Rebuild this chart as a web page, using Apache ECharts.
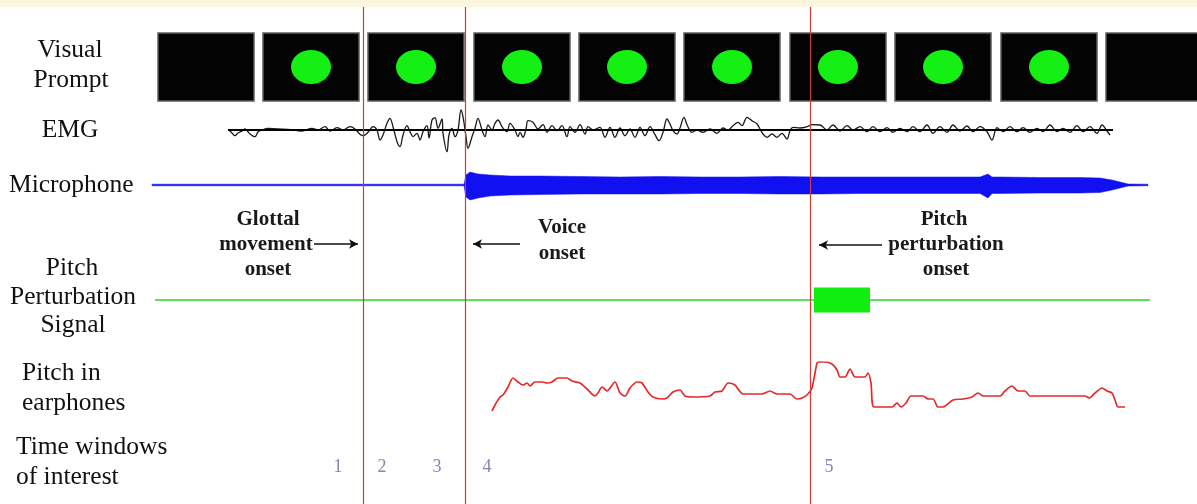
<!DOCTYPE html>
<html>
<head>
<meta charset="utf-8">
<script src="https://cdn.jsdelivr.net/npm/echarts@6/dist/echarts.min.js"></script>
<style>
html,body{margin:0;padding:0;background:#fff;}
#chart{width:1197px;height:504px;}
</style>
</head>
<body>
<div id="chart"></div>
<script>
// ---- data (time axis in ms-like units across the trial) ----
const onsetTimes = [363, 465, 810];
const windowTimes = [338, 382, 437, 487, 829];
const windowLabels = ['1', '2', '3', '4', '5'];

const promptStart = [158, 263, 368, 474, 579, 684, 790, 895, 1001, 1106];
const promptEnd   = [254, 359, 464, 570, 675, 780, 886, 991, 1097, 1202];
const promptLit   = [0, 1, 1, 1, 1, 1, 1, 1, 1, 0];

const emgTime = [229,232,235,238,242,245,250,255,258,262,268,278,288,302,312,318,325,330,337,343,350,355,360,363,368,373,377,380,383,387,390,393,397,400,403,407,410,413,417,420,423,427,429,432,435,438,442,443,447,449,452,455,458,461,463,466,468,472,475,478,482,485,488,492,495,498,502,507,510,515,518,520,523,526,528,533,538,543,547,552,557,562,567,570,575,580,585,588,593,600,605,610,615,620,625,630,635,640,645,650,655,659,663,667,670,673,677,680,684,687,692,697,703,710,717,723,728,733,738,742,747,752,757,760,763,767,772,777,782,787,790,793,800,807,812,820,827,833,840,847,853,860,867,873,880,887,893,900,907,913,920,927,933,940,947,953,960,967,973,980,987,992,997,1003,1010,1017,1023,1030,1037,1043,1050,1057,1063,1070,1077,1083,1090,1097,1102,1107,1110];
const emgValue = [0,-3,-5.7,-3,-1,1,-4,-6.7,-2,0,1.7,1,0.7,-1,1.7,0,3.3,-1,2.3,0,3.3,1,-4.3,-5.7,-2.3,3.3,0,-10,-5,6.7,11.7,3.3,-11.7,-16.7,-5,4.3,-1.7,-6.7,-3.3,-10,-1.7,4.3,-8,10,12.3,1.7,11,-3.3,-21.7,-5,1.7,-6.7,0,20,13.3,-6.7,-18.3,-6.7,1.7,11.7,0,-6.7,5,0,6.7,10,3.3,-1.7,6.7,0,-6.7,-2.3,-7.3,1,9.3,7.7,1,5.3,-2.3,4.3,-0.7,4.3,-6.7,3.3,-2.3,5.3,-4,3.3,0,2.7,-7.3,2.7,-7.3,2,-5.7,1,-7.3,2.7,-5.7,3.3,-4.7,-10.7,-2.3,11,6,-0.7,-4,2,12.7,5.3,-2.3,0,-2.3,1,-3.3,2,0,4.3,7.7,4.3,12.7,9.3,6,1,-4,-7.3,-4,-7.3,-3.3,-9,-0.7,2.7,2,3.3,5.3,5,0,5,-1,4.3,0,3.3,-1.7,3.3,-1.7,2.3,-2.3,1.7,-1.7,3.3,-1.7,5,-3.3,3.3,-2.3,5,-1,4,-1.7,3.3,-1.7,-10,2.3,-1.7,3.3,-1.7,2.3,-2.3,1.7,-1.7,5,-1.7,1.7,-2.3,4.3,-1.7,3.3,-3.3,5,-1,-5];
const emgBaseline = [[228, 0], [1113, 0]];

const micTime  = [152, 464, 466, 470, 478, 490, 510, 540, 580, 620, 660, 700, 740, 780, 820, 860, 900, 940, 980, 988, 992, 1000, 1040, 1080, 1100, 1112, 1120, 1128, 1148];
const micUpper = [0.8, 0.8, 10, 13, 11, 10, 9, 9, 8.5, 8, 8.5, 8, 8, 8.5, 8, 8, 8, 8, 8, 11, 8, 8, 7.5, 7.5, 7, 5, 3, 1, 0.8];
const micLower = [-0.8, -0.8, -12, -15, -13, -11, -10, -9.5, -9, -9, -9, -8.5, -8.5, -9, -9, -8.5, -8.5, -8.5, -8.5, -13, -8.5, -8.5, -8, -8, -7.5, -5, -3, -1, -0.8];

const perturbLine = [[155, 0], [1150, 0]];
const perturbStart = 814, perturbEnd = 870, perturbAmp = 12.5;

const pitchTime = [492,495,500,503,508,513,518,523,527,530,535,542,547,552,558,567,572,580,587,595,598,602,607,615,620,625,630,637,642,648,653,662,667,673,680,685,692,710,715,722,728,735,743,762,770,777,790,797,802,808,812,817,819,825,832,837,840,845,850,855,865,868,871,874,892,897,901,906,911,923,928,933,938,943,953,963,972,978,983,1000,1005,1012,1018,1025,1030,1085,1089,1095,1102,1107,1112,1115,1118,1125];
const pitchValue = [1,7,15,17,25,34,30,27,29,26,30,30,29,30,34,34,31,29,23,16,19,25,21,30,19,16,24,30,29,20,15,13,14,20,22,16,15,16,20,21,29,27,18,18,21,18,18,13,14,18,24,49,50,50,48,42,35,35,43,35,35,39,29,5,5,9,5,9,16,16,13,13,5,5,12,13,15,19,16,16,21,26,21,21,16,16,14,19,24,21,19,12,5,5];

// ---- layout ----
const serif = '"Liberation Serif", "DejaVu Serif", serif';
const X = {type: 'value', min: 0, max: 1197, show: false};
function xa(i) { return Object.assign({gridIndex: i}, X); }

const chart = echarts.init(document.getElementById('chart'), null, {renderer: 'canvas'});

function txt(t, x, y, opt) {
  return {
    type: 'text', x: x, y: y, z: 50,
    style: Object.assign({
      text: t, fill: '#111', font: '25.5px ' + serif,
      textAlign: 'center', textVerticalAlign: 'middle'
    }, opt || {})
  };
}
const bold = {font: 'bold 21px ' + serif, fill: '#1a1a1a'};

const option = {
  backgroundColor: '#ffffff',
  animation: false,
  grid: [
    {left: 0, right: 0, top: 7, height: 497},   // overlay
    {left: 0, right: 0, top: 33, height: 68},   // visual prompt
    {left: 0, right: 0, top: 105, height: 50},  // EMG
    {left: 0, right: 0, top: 160, height: 50},  // microphone
    {left: 0, right: 0, top: 275, height: 50},  // perturbation
    {left: 0, right: 0, top: 362, height: 50}   // pitch in earphones
  ],
  xAxis: [xa(0), xa(1), xa(2), xa(3), xa(4), xa(5)],
  yAxis: [
    {gridIndex: 0, type: 'value', min: 7, max: 504, inverse: true, show: false},
    {gridIndex: 1, type: 'value', min: 0, max: 1, show: false},
    {gridIndex: 2, type: 'value', min: -25, max: 25, show: false},
    {gridIndex: 3, type: 'value', min: -25, max: 25, show: false},
    {gridIndex: 4, type: 'value', min: -25, max: 25, show: false},
    {gridIndex: 5, type: 'value', min: 0, max: 50, show: false}
  ],
  graphic: [
    {type: 'rect', shape: {x: 0, y: 0, width: 1197, height: 7}, style: {fill: '#fcf6df'}, z: -1},
    txt('Visual', 70, 50), txt('Prompt', 71, 80),
    txt('EMG', 70, 130),
    txt('Microphone', 9, 185, {textAlign: 'left'}),
    txt('Pitch', 72, 268), txt('Perturbation', 73, 297), txt('Signal', 73, 325),
    txt('Pitch in', 22, 373, {textAlign: 'left'}), txt('earphones', 22, 403, {textAlign: 'left'}),
    txt('Time windows', 16, 447, {textAlign: 'left'}), txt('of interest', 16, 477, {textAlign: 'left'}),
    txt('Glottal', 268, 220, bold), txt('movement', 266, 245, bold), txt('onset', 268, 270, bold),
    txt('Voice', 562, 228, bold), txt('onset', 562, 254, bold),
    txt('Pitch', 944, 220, bold), txt('perturbation', 946, 245, bold), txt('onset', 946, 270, bold)
  ],
  series: [
    // visual prompt boxes
    {
      type: 'custom', xAxisIndex: 1, yAxisIndex: 1, z: 2,
      data: promptStart.map((s, i) => [s, promptEnd[i]]),
      renderItem: function (params, api) {
        const p0 = api.coord([api.value(0), 1]);
        const p1 = api.coord([api.value(1), 0]);
        return {type: 'rect', shape: {x: p0[0], y: p0[1], width: p1[0] - p0[0], height: p1[1] - p0[1]},
          style: {fill: '#030303', stroke: '#5e5e5e', lineWidth: 1.5}};
      }
    },
    {
      type: 'scatter', xAxisIndex: 1, yAxisIndex: 1, z: 3,
      symbol: 'circle', symbolSize: [40, 34],
      itemStyle: {color: '#14f014', opacity: 1},
      data: promptStart.map((s, i) => promptLit[i] ? [(s + promptEnd[i]) / 2, 0.5] : null).filter(Boolean)
    },
    // EMG
    {
      type: 'line', xAxisIndex: 2, yAxisIndex: 2, showSymbol: false, smooth: 0.35, z: 3,
      lineStyle: {color: '#1a1a1a', width: 1.3},
      data: emgTime.map((t, i) => [t, emgValue[i]])
    },
    {
      type: 'line', xAxisIndex: 2, yAxisIndex: 2, showSymbol: false, z: 4,
      lineStyle: {color: '#000', width: 2},
      data: emgBaseline
    },
    // microphone envelope
    {
      type: 'custom', xAxisIndex: 3, yAxisIndex: 3, z: 3,
      data: [[0]],
      renderItem: function (params, api) {
        const pts = [];
        for (let i = 0; i < micTime.length; i++) pts.push(api.coord([micTime[i], micUpper[i]]));
        for (let i = micTime.length - 1; i >= 0; i--) pts.push(api.coord([micTime[i], micLower[i]]));
        return {type: 'polygon', shape: {points: pts}, style: {fill: '#1010f0', stroke: '#1010f0', lineWidth: 0.5}};
      }
    },
    // pitch perturbation signal
    {
      type: 'line', xAxisIndex: 4, yAxisIndex: 4, showSymbol: false, z: 3,
      lineStyle: {color: '#5ee05e', width: 2},
      data: perturbLine
    },
    {
      type: 'custom', xAxisIndex: 4, yAxisIndex: 4, z: 4,
      data: [[perturbStart, perturbEnd, perturbAmp]],
      renderItem: function (params, api) {
        const p0 = api.coord([api.value(0), api.value(2)]);
        const p1 = api.coord([api.value(1), -api.value(2)]);
        return {type: 'rect', shape: {x: p0[0], y: p0[1], width: p1[0] - p0[0], height: p1[1] - p0[1]},
          style: {fill: '#10ee10'}};
      }
    },
    // pitch in earphones
    {
      type: 'line', xAxisIndex: 5, yAxisIndex: 5, showSymbol: false, smooth: 0.25, z: 3,
      lineStyle: {color: '#e42a2a', width: 1.7},
      data: pitchTime.map((t, i) => [t, pitchValue[i]])
    },
    // onset lines
    {
      type: 'line', xAxisIndex: 0, yAxisIndex: 0, data: [], z: 10,
      markLine: {
        silent: true, symbol: 'none', animation: false,
        label: {show: false},
        lineStyle: {color: '#cf3c3c', width: 1.2, type: 'solid'},
        data: onsetTimes.map(t => ({xAxis: t}))
      }
    },
    // arrows
    {
      type: 'line', xAxisIndex: 0, yAxisIndex: 0, data: [], z: 10,
      markLine: {
        silent: true, symbol: ['none', 'arrow'], symbolSize: [7, 9], animation: false,
        label: {show: false},
        lineStyle: {color: '#111', width: 1.5, type: 'solid'},
        data: [
          [{coord: [314, 244]}, {coord: [358, 244]}],
          [{coord: [520, 244]}, {coord: [473, 244]}],
          [{coord: [882, 245]}, {coord: [819, 245]}]
        ]
      }
    },
    // time windows of interest
    {
      type: 'scatter', xAxisIndex: 0, yAxisIndex: 0, symbolSize: 0, z: 11,
      label: {show: true, position: 'inside', formatter: p => windowLabels[p.dataIndex],
        color: '#66669a', fontSize: 18, fontFamily: serif},
      data: windowTimes.map(t => [t, 467])
    }
  ]
};
chart.setOption(option);
</script>
</body>
</html>
